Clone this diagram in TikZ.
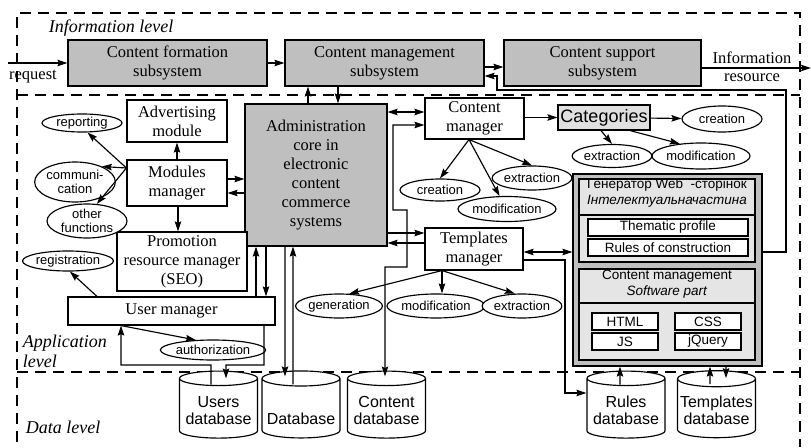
\documentclass[tikz,border=0pt]{standalone}
\usepackage{fontspec}
\setmainfont{Liberation Serif}
\setsansfont{Liberation Sans}
\usetikzlibrary{arrows,arrows.meta,shapes,positioning}

\definecolor{boxgray}{gray}{0.75}
\definecolor{panelgray}{gray}{0.9}
\definecolor{catgray}{gray}{0.88}

\tikzset{
  subsys/.style={draw, fill=boxgray, minimum width=199pt, minimum height=46pt, inner sep=0pt, align=center, font=\fontsize{16.5}{19}\selectfont},
  module/.style={draw, fill=white, inner sep=0pt, align=center, font=\fontsize{16.5}{19}\selectfont},
  oval/.style={ellipse, draw, fill=white, inner sep=0pt, align=center, font=\sffamily\fontsize{13}{14}\selectfont},
  dbase/.style={cylinder, shape border rotate=90, aspect=0.22, draw, fill=white, minimum width=78pt, minimum height=67pt, inner sep=0pt, align=center, font=\sffamily\fontsize{16}{17}\selectfont, execute at begin node={\rule{0pt}{33pt}}},
  levelname/.style={anchor=west, align=left, font=\itshape\fontsize{18}{20}\selectfont},
  gentext/.style={align=center, inner sep=0pt, font=\sffamily\fontsize{13.5}{16}\selectfont},
  genbox/.style={draw, fill=white, minimum height=17pt, inner sep=0pt, font=\sffamily\fontsize{13.5}{16}\selectfont}
}

\begin{document}
\begin{tikzpicture}[x=1pt, y=-1pt, line width=1.15pt, >={Stealth[length=10pt, width=6.5pt, inset=1.5pt]}]
    \useasboundingbox (0,0) rectangle (811,447);

    % dashed borders of the three levels
    \draw[dashed, dash pattern=on 11pt off 7pt] (17,442) -- (17,13) -- (800,13) -- (800,447);
    \draw[dashed, dash pattern=on 11pt off 7pt] (17,95) -- (800,95);
    \draw[dashed, dash pattern=on 11pt off 7pt] (17,372) -- (800,372);

    \node[levelname] (infolevel) at (45,28) {Information level};
    \node[levelname] (applevel) at (19,351) {Application\\level};
    \node[levelname] (datalevel) at (22,427) {Data level};

    % information level
    \node[subsys] (cformation) at (167.5,63) {Content formation\\subsystem};
    \node[subsys] (cmanagement) at (384.5,63) {Content management\\subsystem};
    \node[subsys, minimum width=197pt] (csupport) at (602.5,63) {Content support\\subsystem};

    \coordinate (reqin) at (8,63);
    \coordinate (resout) at (811,68);
    \draw[->] (reqin) -- (cformation);
    \node[font=\fontsize{16.5}{19}\selectfont] (request) at (33,77) {request};
    \draw[->] (cformation) -- (cmanagement);
    \draw[->] (cmanagement.east |- 0,67) -- (csupport.west |- 0,67);
    \draw[->] (csupport.east |- 0,68) -- (resout);
    \node[font=\fontsize{16.5}{19}\selectfont] (inforesA) at (752,58) {Information};
    \node[font=\fontsize{16.5}{19}\selectfont] (inforesB) at (752,78) {resource};

    % application level
    \node[module, fill=boxgray, minimum width=142pt, minimum height=142pt] (core) at (316,175) {Administration\\core in\\electronic\\content\\commerce\\systems};
    \node[module, minimum width=100pt, minimum height=42pt] (advert) at (177,121) {Advertising\\module};
    \node[module, minimum width=100pt, minimum height=46pt] (modules) at (177,183) {Modules\\manager};
    \node[module, minimum width=130pt, minimum height=59pt] (promo) at (182,261.5) {Promotion\\resource manager\\(SEO)};
    \node[module, minimum width=207pt, minimum height=28pt] (users) at (171.5,311) {User manager};
    \node[module, minimum width=99pt, minimum height=41pt] (cmanager) at (474.5,118.5) {Content\\manager};
    \node[module, fill=catgray, minimum width=92pt, minimum height=25pt, font=\sffamily\fontsize{18}{20}\selectfont] (categories) at (604,117.5) {Categories};
    \node[module, minimum width=98pt, minimum height=42pt] (tmanager) at (474,249) {Templates\\manager};

    \node[oval, minimum width=80pt, minimum height=18pt] (reporting) at (82,123) {reporting};
    \node[oval, minimum width=80pt, minimum height=40pt] (communication) at (75,182) {communi-\\cation};
    \node[oval, minimum width=80pt, minimum height=34pt] (otherfn) at (87,221) {other\\functions};
    \node[oval, minimum width=86pt, minimum height=20pt] (registration) at (68,261) {registration};
    \node[oval, minimum width=90pt, minimum height=20pt] (authorization) at (213,350) {authorization};
    \node[oval, minimum width=80pt, minimum height=22pt] (ccreation) at (440,190) {creation};
    \node[oval, minimum width=88pt, minimum height=25pt] (cmodification) at (507,209) {modification};
    \node[oval, minimum width=75pt, minimum height=24pt] (cextraction) at (532,178) {extraction};
    \node[oval, minimum width=80pt, minimum height=26pt] (kcreation) at (722,119) {creation};
    \node[oval, minimum width=75pt, minimum height=23pt] (kextraction) at (612,156) {extraction};
    \node[oval, minimum width=88pt, minimum height=26pt] (kmodification) at (701,156) {modification};
    \node[oval, minimum width=80pt, minimum height=24pt] (tgeneration) at (339,306) {generation};
    \node[oval, minimum width=88pt, minimum height=24pt] (tmodification) at (436,306) {modification};
    \node[oval, minimum width=75pt, minimum height=24pt] (textraction) at (522,306) {extraction};

    % web page generator
    \node[draw, fill=boxgray, minimum width=189pt, minimum height=192pt] (generator) at (667.5,270) {};
    \node[draw, fill=panelgray, minimum width=176pt, minimum height=83pt] (intpart) at (667,220.5) {};
    \node[gentext] (inthead) at (667,193) {Генератор Web~~-сторінок\\\textit{Інтелектуальначастина}};
    \draw (intpart.west |- 0,215) -- (intpart.east |- 0,215);
    \node[genbox, minimum width=160pt] (thematic) at (668,227.5) {Thematic profile};
    \node[genbox, minimum width=160pt] (rules) at (668,247.5) {Rules of construction};
    \node[draw, fill=panelgray, minimum width=176pt, minimum height=91pt] (softpart) at (667,314.5) {};
    \node[gentext] (softhead) at (667,284.5) {Content management\\\textit{Software part}};
    \draw (softpart.west |- 0,303) -- (softpart.east |- 0,303);
    \node[genbox, minimum width=66pt] (html) at (625,321.5) {HTML};
    \node[genbox, minimum width=66pt] (css) at (708,321.5) {CSS};
    \node[genbox, minimum width=66pt] (js) at (625,341.5) {JS};
    \node[genbox, minimum width=66pt] (jquery) at (708,341.5) {jQuery};

    % data level
    \node[dbase] (usersdb) at (218.5,408.5) {Users\\database};
    \node[dbase] (maindb) at (301,408.5) {Database};
    \node[dbase] (contentdb) at (386.5,408.5) {Content\\database};
    \node[dbase] (rulesdb) at (626,408.5) {Rules\\database};
    \node[dbase] (templatesdb) at (716.5,408.5) {Templates\\database};

    % connections
    \draw[->] (generator.east |- 0,252) -- (786,252) -- (786,90) -- (497,90) -- (497,76) -- (cmanagement.east |- 0,76);
    \draw[->] (core.north -| 308,0) -- (cmanagement.south -| 308,0);
    \draw[->] (cmanagement.south -| 338,0) -- (core.north -| 338,0);

    \draw[->] (modules) -- (advert);
    \draw[->] (modules.east |- 0,179) -- (core.west |- 0,179);
    \draw[->] (core.west |- 0,193) -- (modules.east |- 0,193);
    \draw[->] (modules.south -| 178,0) -- (promo.north -| 178,0);
    \draw[->] (modules.west |- 0,168) -- (reporting.-60);
    \draw[->] (modules.west |- 0,168) -- (communication.30);
    \draw[->] (modules.west |- 0,168) -- (otherfn.60);

    \draw[->] (users.north -| 97,0) -- (registration.-80);
    \draw[->] (users.north -| 256,0) -- (core.south -| 256,0);
    \draw[->] (core.south -| 266,0) -- (users.north -| 266,0);
    \draw[->] (users.south -| 121,0) -- (authorization.150);
    \draw[->] ([xshift=-7.5pt,yshift=-14pt]usersdb.north) -- (211,365) -- (121,365) -- (users.south -| 121,0);
    \draw[->] (users.south -| 264,0) -- (264,365) -- (226,365) -- ([xshift=7.5pt,yshift=-8pt]usersdb.north);

    \draw[->] (core.south -| 285,0) -- ([xshift=-16pt,yshift=-6pt]maindb.north);
    \draw[->] ([xshift=-8pt,yshift=-14pt]maindb.north) -- (core.south -| 293,0);

    \draw[<->] (core.east |- 0,112) -- (cmanager.west |- 0,112);
    \draw[<->] (cmanager.west |- 0,125) -- (393,125) -- (393,210) -- (407,210) -- (407,267) -- (385,267) -- ([xshift=-1.5pt,yshift=-6pt]contentdb.north);
    \draw[->] (cmanager.east |- categories) -- (categories);
    \draw[->] (categories) -- (kcreation);
    \draw[->] (categories.south -| 601,0) -- (kextraction.north);
    \draw[->] (categories.south -| 630,0) -- (kmodification.150);
    \draw[->] (cmanager.south -| 469,0) -- (ccreation.north);
    \draw[->] (cmanager.south -| 469,0) -- (cmodification.120);
    \draw[->] (cmanager.south -| 469,0) -- (cextraction.north);

    \draw[->] (core.east |- 0,233) -- (tmanager.west |- 0,233);
    \draw[->] (tmanager.west |- 0,243) -- (core.east |- 0,243);
    \draw[<->] (tmanager.east |- 0,252) -- (generator.west |- 0,252);
    \draw[->] (tmanager.east |- 0,260) -- (565,260) -- (565,393) -- (rulesdb.west |- 0,393);
    \draw[->] (tmanager.south -| 442,0) -- (tgeneration.50);
    \draw[->] (tmanager.south -| 442,0) -- (tmodification.north -| 442,0);
    \draw[->] (tmanager.south -| 442,0) -- (textraction.120);

    \draw[->] ([xshift=-6pt,yshift=-14pt]rulesdb.north) -- (generator.south -| 620,0);
    \draw[->] ([xshift=-6.5pt,yshift=-14pt]templatesdb.north) -- (generator.south -| 710,0);
    \draw[->] (generator.south -| 726,0) -- ([xshift=9.5pt,yshift=-8pt]templatesdb.north);
\end{tikzpicture}
\end{document}
